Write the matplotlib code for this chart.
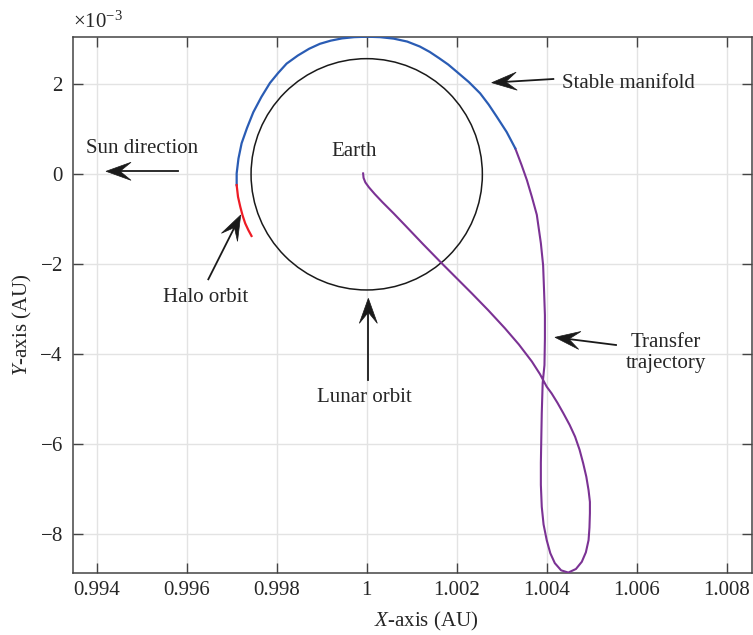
import numpy as np
import matplotlib
matplotlib.use("Agg")
import matplotlib.pyplot as plt
from matplotlib.patches import Circle, Polygon

plt.rcParams['font.family'] = ['Liberation Serif', 'DejaVu Serif']
plt.rcParams['mathtext.fontset'] = 'custom'
plt.rcParams['mathtext.rm'] = 'Liberation Serif'
plt.rcParams['mathtext.it'] = 'Liberation Serif:italic'
plt.rcParams['font.size'] = 15

# ---------------- data (x in AU, y in 1e-3 AU) ----------------
transfer_x = [0.99992, 0.99993, 0.99997, 1.00005, 1.00018, 1.00035, 1.00060, 1.00085,
              1.00125, 1.00167, 1.00200, 1.00233, 1.00270, 1.00307, 1.00338, 1.00367,
              1.00385, 1.00400, 1.00411, 1.00424, 1.00437, 1.00451, 1.00463, 1.00473,
              1.00481, 1.00488, 1.00493, 1.00496, 1.00496, 1.00495, 1.00493, 1.00487,
              1.00478, 1.00465, 1.00448, 1.00432, 1.00418, 1.00408, 1.00400, 1.00393,
              1.00389, 1.00387, 1.00387, 1.00388, 1.00389, 1.00391, 1.00395, 1.00396,
              1.00396, 1.00394, 1.00392, 1.00387, 1.00378, 1.00367, 1.00356, 1.00344,
              1.00330]
transfer_y = [0.02, -0.08, -0.18, -0.29, -0.44, -0.62, -0.87, -1.13,
              -1.55, -1.98, -2.31, -2.64, -3.02, -3.42, -3.78, -4.16,
              -4.44, -4.72, -4.87, -5.08, -5.31, -5.57, -5.83, -6.12,
              -6.42, -6.72, -7.02, -7.28, -7.53, -7.85, -8.13, -8.40,
              -8.61, -8.77, -8.85, -8.80, -8.64, -8.42, -8.13, -7.78,
              -7.39, -6.90, -6.42, -5.85, -5.31, -4.64, -4.24, -3.65,
              -3.13, -2.55, -2.02, -1.53, -0.90, -0.50, -0.13, 0.21,
              0.58]

manifold_x = [1.00330, 1.00311, 1.00289, 1.00271, 1.00252, 1.00227, 1.00200, 1.00181,
              1.00161, 1.00140, 1.00118, 1.00090, 1.00060, 1.00030, 1.00000, 0.99972,
              0.99945, 0.99920, 0.99896, 0.99872, 0.99847, 0.99822, 0.99803, 0.99785,
              0.99766, 0.99748, 0.99734, 0.99722, 0.99715, 0.99711, 0.99711]
manifold_y = [0.58, 0.94, 1.28, 1.55, 1.80, 2.05, 2.28, 2.44,
              2.58, 2.72, 2.84, 2.95, 3.015, 3.048, 3.058, 3.048,
              3.02, 2.97, 2.90, 2.79, 2.64, 2.46, 2.25, 2.03,
              1.72, 1.38, 1.03, 0.69, 0.35, 0.02, -0.24]

halo_x = [0.99711, 0.99714, 0.99719, 0.99724, 0.99730, 0.99737, 0.99744]
halo_y = [-0.24, -0.50, -0.72, -0.91, -1.09, -1.24, -1.37]

earth_x, earth_y = 1.0, 0.0
lunar_radius = 2.57e-3

x_ticks = [0.994, 0.996, 0.998, 1.0, 1.002, 1.004, 1.006, 1.008]
x_tick_labels = ['0.994', '0.996', '0.998', '1', '1.002', '1.004', '1.006', '1.008']
y_ticks = [-8, -6, -4, -2, 0, 2]  # x 1e-3
y_scale = 1e-3

# ---------------- figure ----------------
W, H = 753, 635
fig = plt.figure(figsize=(W / 100, H / 100), dpi=100)
ax_l, ax_r, ax_t, ax_b = 73, 752, 36.7, 572.7
ax = fig.add_axes([ax_l / W, 1 - ax_b / H, (ax_r - ax_l) / W, (ax_b - ax_t) / H])

ax.set_xlim(0.993473, 1.008562)
ax.set_ylim(-8.853e-3, 3.058e-3)

ink = '#262626'
ax.plot(transfer_x, np.array(transfer_y) * y_scale, color='#7b3294', lw=1.5, zorder=3,
        solid_joinstyle='round')
ax.plot(manifold_x, np.array(manifold_y) * y_scale, color='#2a5cb4', lw=1.6, zorder=3,
        solid_joinstyle='round')
ax.plot(halo_x, np.array(halo_y) * y_scale, color='#ee1c25', lw=1.6, zorder=3,
        solid_joinstyle='round')
ax.add_patch(Circle((earth_x, earth_y), lunar_radius, fill=False, ec='#1a1a1a', lw=1.1, zorder=2))

ax.set_xticks(x_ticks)
ax.set_xticklabels(x_tick_labels)
ax.set_yticks(np.array(y_ticks) * y_scale)
ax.ticklabel_format(axis='y', style='sci', scilimits=(0, 0), useMathText=True)
ax.yaxis.get_offset_text().set_fontsize(15)
ax.yaxis.get_offset_text().set_color(ink)
ax.yaxis.OFFSETTEXTPAD = 6.5

ax.grid(True, color='#e3e3e3', lw=1.0)
ax.set_axisbelow(True)
ax.tick_params(direction='in', length=7, width=1, color='#444444', labelcolor=ink,
               top=True, right=True, labelsize=15)
ax.tick_params(axis='x', pad=6)
ax.tick_params(axis='y', pad=7)
for s in ax.spines.values():
    s.set_color('#444444')
    s.set_linewidth(1.1)

ax.set_xlabel(r'$\mathit{X}$-axis (AU)', fontsize=15, color=ink, va='center')
ax.xaxis.set_label_coords((426 - ax_l) / (ax_r - ax_l), (ax_b - 621.7) / (ax_b - ax_t))
ax.set_ylabel(r'$\mathit{Y}$-axis (AU)', fontsize=15, color=ink, va='center')
ax.yaxis.set_label_coords((22.5 - ax_l) / (ax_r - ax_l), (ax_b - 325) / (ax_b - ax_t))


def arrow(tail, tip, head_len=25, half_w=9, notch=14):
    tr = ax.transData
    p0 = tr.transform((tail[0], tail[1] * y_scale))
    p1 = tr.transform((tip[0], tip[1] * y_scale))
    d = p1 - p0
    u = d / np.hypot(*d)
    n = np.array([-u[1], u[0]])
    base = p1 - u * head_len
    back = p1 - u * notch
    head = np.array([p1, base + n * half_w, back, base - n * half_w])
    head_d = tr.inverted().transform(head)
    shaft = tr.inverted().transform(np.array([p0, back]))
    ax.plot(shaft[:, 0], shaft[:, 1], color='#1a1a1a', lw=1.3, zorder=5)
    ax.add_patch(Polygon(head_d, closed=True, fc='#1a1a1a', ec='#1a1a1a', lw=0.5, zorder=5))


txt = dict(fontsize=15, color=ink, zorder=6)
ax.text(0.99376, 0.467e-3, 'Sun direction', ha='left', va='baseline', **txt)
arrow((0.995813, 0.067), (0.994207, 0.067))

ax.text(1.004333, 1.911e-3, 'Stable manifold', ha='left', va='baseline', **txt)
arrow((1.004147, 2.118), (1.002778, 2.036))

ax.text(0.99548, -2.844e-3, 'Halo orbit', ha='left', va='baseline', **txt)
arrow((0.99648, -2.333), (0.99720, -0.904))

ax.text(0.998889, -5.067e-3, 'Lunar orbit', ha='left', va='baseline', **txt)
arrow((1.000036, -4.571), (1.000036, -2.756))

ax.text(1.00665, -3.831e-3, 'Transfer', ha='center', va='baseline', **txt)
ax.text(1.00665, -4.311e-3, 'trajectory', ha='center', va='baseline', **txt)
arrow((1.00554, -3.793), (1.004184, -3.622))

ax.text(0.999222, 0.407e-3, 'Earth', ha='left', va='baseline', **txt)

fig.savefig('out.png', dpi=100)
